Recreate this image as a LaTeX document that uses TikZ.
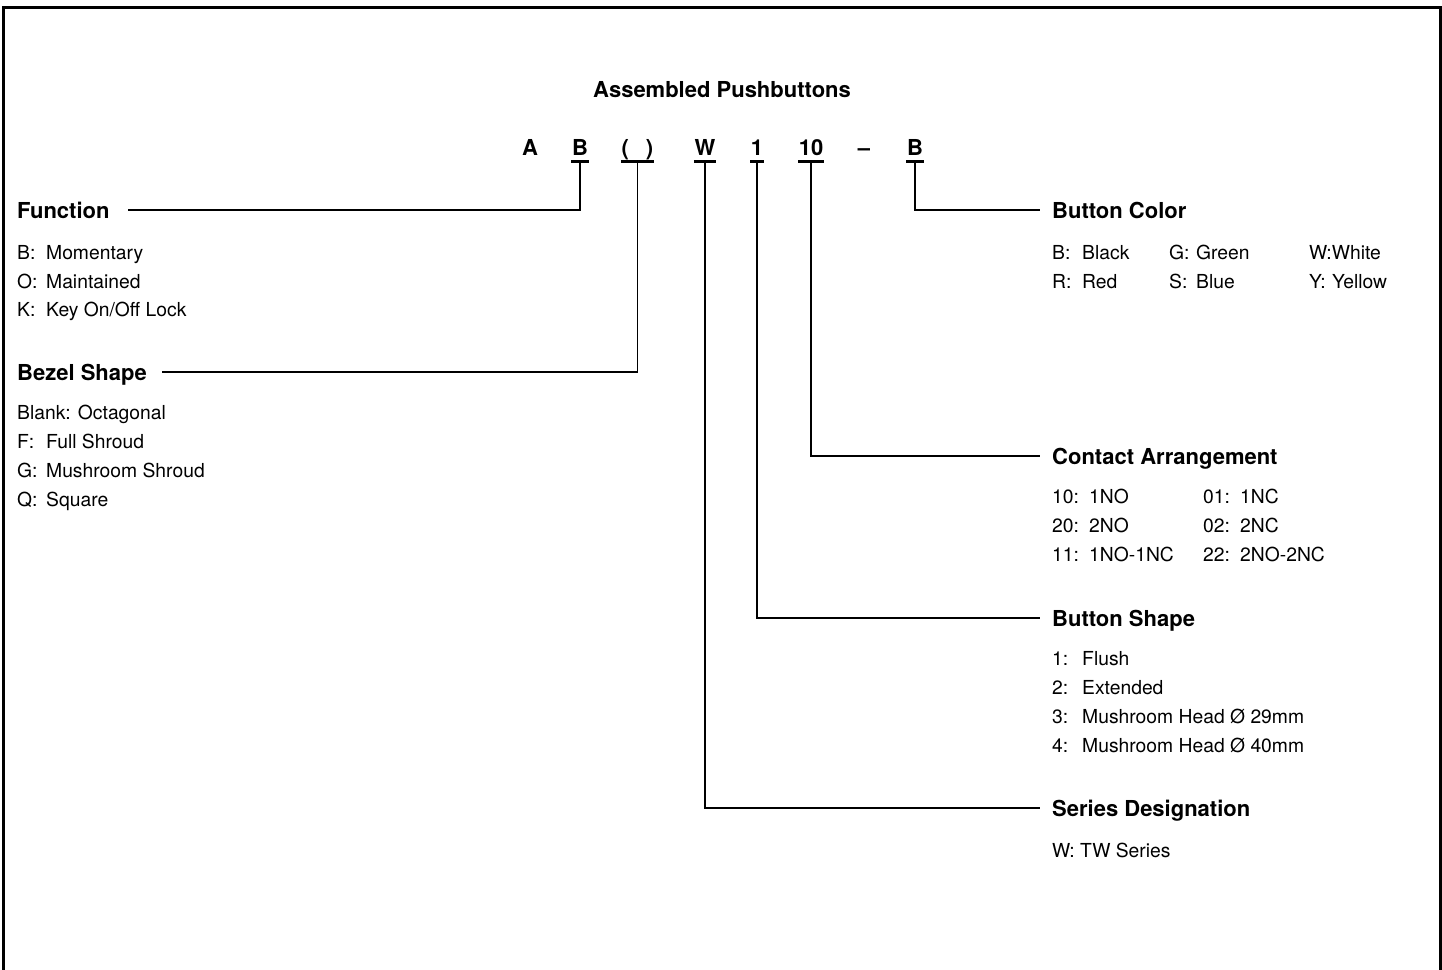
\documentclass[tikz,border=0pt]{standalone}
\usepackage{fontspec}
\setmainfont{TeX Gyre Heros}
\begin{document}
\begin{tikzpicture}[x=1pt,y=-1pt,
  hd/.style={font=\fontsize{22}{26}\selectfont\bfseries, inner sep=0pt, text height=16pt, text depth=0pt, anchor=base west},
  ttl/.style={font=\fontsize{22}{26}\selectfont\bfseries, inner sep=0pt, anchor=base},
  itm/.style={font=\fontsize{19.3}{23}\selectfont, inner sep=0pt, anchor=base west},
  code/.style={font=\fontsize{22}{26}\selectfont\bfseries, inner xsep=0.5pt, inner ysep=0pt, text height=16pt, text depth=6pt, anchor=base},
  ul/.style={line width=2.6pt},
  conn/.style={line width=1.4pt},
  frame/.style={line width=3pt}]
\useasboundingbox (0,0) rectangle (1442,969);
\draw[frame] (3.5,980) -- (3.5,7) -- (1440.5,7) -- (1440.5,980);

% title
\node[ttl] (title) at (722,97) {Assembled Pushbuttons};

% code letters
\node[code] (cA)  at (530,155) {A};
\node[code] (cB)  at (580,155) {B};
\node[code] (cP)  at (637.5,155) {(\hspace{17pt})};
\node[code] (cW)  at (705,155) {W};
\node[code] (c1)  at (757,155) {1};
\node[code] (c10) at (811,155) {10};
\node[code] (cD)  at (864,155) {--};
\node[code] (cB2) at (915,155) {B};

\foreach \n in {cB,cP,cW,c1,c10,cB2}
  \draw[ul] (\n.south west) -- (\n.south east);

% left headings
\node[hd] (hFunc) at (17,218) {Function};
\node[hd] (hBez)  at (17,380) {Bezel Shape};

% right headings
\node[hd] (hBC)  at (1052,218) {Button Color};
\node[hd] (hCA)  at (1052,464) {Contact Arrangement};
\node[hd] (hBS)  at (1052,626) {Button Shape};
\node[hd] (hSer) at (1052,816) {Series Designation};

% connectors
\draw[conn] (cB.south)  |- ([xshift=18pt]hFunc.east);
\draw[conn] (cP.south)  |- ([xshift=15pt]hBez.east);
\draw[conn] (cB2.south) |- ([xshift=-12pt]hBC.west);
\draw[conn] (c10.south) |- ([xshift=-12pt]hCA.west);
\draw[conn] (c1.south)  |- ([xshift=-12pt]hBS.west);
\draw[conn] (cW.south)  |- ([xshift=-12pt]hSer.west);

% Function items
\node[itm] (f1) at (17,259) {\makebox[29pt][l]{B:}Momentary};
\node[itm] (f2) at (17,288) {\makebox[29pt][l]{O:}Maintained};
\node[itm] (f3) at (17,316) {\makebox[29pt][l]{K:}Key On/Off Lock};

% Bezel items
\node[itm] (b1) at (17,419) {Blank: Octagonal};
\node[itm] (b2) at (17,448) {\makebox[29pt][l]{F:}Full Shroud};
\node[itm] (b3) at (17,477) {\makebox[29pt][l]{G:}Mushroom Shroud};
\node[itm] (b4) at (17,506) {\makebox[29pt][l]{Q:}Square};

% Button color items
\node[itm] (k1) at (1052,259) {\makebox[30pt][l]{B:}Black};
\node[itm] (k2) at (1052,288) {\makebox[30pt][l]{R:}Red};
\node[itm] (k3) at (1169,259) {\makebox[27pt][l]{G:}Green};
\node[itm] (k4) at (1169,288) {\makebox[27pt][l]{S:}Blue};
\node[itm] (k5) at (1309,259) {W:White};
\node[itm] (k6) at (1309,288) {\makebox[23pt][l]{Y:}Yellow};

% Contact items
\node[itm] (a1) at (1052,503) {\makebox[37pt][l]{10:}1NO};
\node[itm] (a2) at (1052,532) {\makebox[37pt][l]{20:}2NO};
\node[itm] (a3) at (1052,561) {\makebox[37pt][l]{11:}1NO-1NC};
\node[itm] (a4) at (1203,503) {\makebox[37pt][l]{01:}1NC};
\node[itm] (a5) at (1203,532) {\makebox[37pt][l]{02:}2NC};
\node[itm] (a6) at (1203,561) {\makebox[37pt][l]{22:}2NO-2NC};

% Button shape items
\node[itm] (s1) at (1052,665) {\makebox[30pt][l]{1:}Flush};
\node[itm] (s2) at (1052,694) {\makebox[30pt][l]{2:}Extended};
\node[itm] (s3) at (1052,723) {\makebox[30pt][l]{3:}Mushroom Head Ø 29mm};
\node[itm] (s4) at (1052,752) {\makebox[30pt][l]{4:}Mushroom Head Ø 40mm};

% Series items
\node[itm] (w1) at (1052,857) {W: TW Series};
\end{tikzpicture}
\end{document}
